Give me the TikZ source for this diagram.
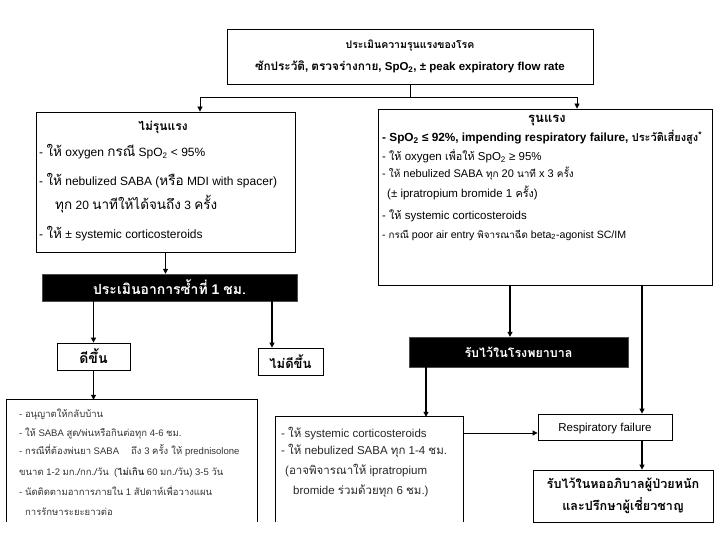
\documentclass[tikz,border=0pt]{standalone}
\usepackage{fontspec}
\setmainfont{Liberation Sans}
\newfontfamily\thaifont[Script=Thai]{Loma}
\newcommand\thsize{}
\newcommand\tx[1]{{\thaifont\thsize #1}}
\newcommand\fs[2]{\fontsize{#1}{#1}\selectfont\renewcommand\thsize{\fontsize{#2}{#2}\selectfont}}
\usetikzlibrary{arrows.meta}
\tikzset{
  box/.style={draw, line width=0.8pt, inner sep=0pt},
  openbox/.style={draw=none, inner sep=0pt},
  blackbox/.style={fill=black, draw=black!70, inner sep=0pt, text=white},
  arr/.style={line width=1.1pt, -{Triangle[length=5pt,width=5pt]}},
  thinarr/.style={line width=0.8pt, -{Triangle[length=5pt,width=5pt]}},
  ln/.style={line width=0.8pt},
  txt/.style={anchor=base west, inner sep=0pt},
  ctxt/.style={anchor=center, inner sep=0pt},
  sev/.style={txt, font=\fs{11.5}{10.8}},
  mildt/.style={txt, font=\fs{12}{13.5}},
  ward/.style={txt, text=black!85, font=\fs{11.5}{11.5}},
  home/.style={txt, text=black!80, font=\fs{9.5}{9.5}}
}
\begin{document}
\begin{tikzpicture}[x=1pt,y=-1pt]
\useasboundingbox (0,0) rectangle (720,540);
% boxes
\node[box, minimum width=366, minimum height=55] (top) at (410,56.5) {};
\node[box, minimum width=259, minimum height=140] (mild) at (165.5,182) {};
\node[box, minimum width=334, minimum height=176] (severe) at (545,197) {};
\node[blackbox, minimum width=255, minimum height=27, font=\fs{14}{14}\bfseries] (reeval) at (169.5,287.5) {\tx{ประเมินอาการซ้ำที่} 1 \tx{ชม.}};
\node[box, minimum width=73, minimum height=27, font=\fs{14}{14}\bfseries] (better) at (93.5,356.5) {\tx{ดีขึ้น}};
\node[box, minimum width=65, minimum height=27, font=\fs{13}{13}\bfseries] (notbetter) at (290.5,361.5) {\tx{ไม่ดีขึ้น}};
\node[blackbox, minimum width=219, minimum height=30, font=\fs{12.5}{12.5}\bfseries] (admit) at (518.5,352) {\tx{รับไว้ในโรงพยาบาล}};
\node[openbox, minimum width=250, minimum height=122] (home) at (132,461) {};
\node[openbox, minimum width=187, minimum height=105] (ward) at (369.5,469.5) {};
\draw[ln] (home.south west) -- (home.north west) -- (home.north east) -- (home.south east);
\draw[ln] (ward.south west) -- (ward.north west) -- (ward.north east) -- (ward.south east);
\node[box, minimum width=134, minimum height=26, text height=8.5pt, text depth=0pt, font=\fs{11.5}{11.5}] (resp) at (605,427) {Respiratory failure};
\node[box, minimum width=180, minimum height=52, align=center, font=\fs{12.6}{12.6}\bfseries] (icu) at (623,496) {\tx{รับไว้ในหออภิบาลผู้ป่วยหนัก}\\[5pt]\tx{และปรึกษาผู้เชี่ยวชาญ}};
% top text
\node[ctxt, font=\fs{10.5}{10.5}\bfseries] (t1) at (410,46) {\tx{ประเมินความรุนแรงของโรค}};
\node[ctxt, font=\fs{11.5}{11.8}\bfseries] (t2) at (410,67) {\tx{ซักประวัติ}, \tx{ตรวจร่างกาย}, SpO\textsubscript{2}, ± peak expiratory flow rate};
% mild text
\node[ctxt, font=\fs{12}{12}\bfseries] (l1) at (163,127) {\tx{ไม่รุนแรง}};
\node[mildt] (l2) at (39,157) {- \tx{ให้} oxygen \tx{กรณี} SpO\textsubscript{2} < 95\%};
\node[mildt] (l3) at (39,186) {- \tx{ให้} nebulized SABA (\tx{หรือ} MDI with spacer)};
\node[mildt] (l4) at (55,210) {\tx{ทุก} 20 \tx{นาทีให้ได้จนถึง} 3 \tx{ครั้ง}};
\node[mildt] (l5) at (39,239) {- \tx{ให้} ± systemic corticosteroids};
% severe text
\node[ctxt, font=\fs{13}{13}\bfseries] (r0) at (547,121) {\tx{รุนแรง}};
\node[sev, font=\fs{11.8}{11}\bfseries] (r1) at (382,142) {- SpO\textsubscript{2} ≤ 92\%, impending respiratory failure, \tx{ประวัติเสี่ยงสูง}\textsuperscript{*}};
\node[sev] (r2) at (382,161) {- \tx{ให้} oxygen \tx{เพื่อให้} SpO\textsubscript{2} ≥ 95\%};
\node[sev, font=\fs{11}{10}] (r3) at (382,178) {- \tx{ให้} nebulized SABA \tx{ทุก} 20 \tx{นาที} x 3 \tx{ครั้ง}};
\node[sev] (r4) at (387,198) {(± ipratropium bromide 1 \tx{ครั้ง})};
\node[sev] (r5) at (382,219) {- \tx{ให้} systemic corticosteroids};
\node[sev, font=\fs{10.6}{9.8}] (r6) at (382,238) {- \tx{กรณี} poor air entry \tx{พิจารณาฉีด} beta\textsubscript{2}-agonist SC/IM};
% home text
\node[home] (b1) at (19,417) {- \tx{อนุญาตให้กลับบ้าน}};
\node[home] (b2) at (19,436) {- \tx{ให้} SABA \tx{สูด/พ่นหรือกินต่อทุก} 4-6 \tx{ชม.}};
\node[home] (b3) at (19,454) {- \tx{กรณีที่ต้องพ่นยา} SABA \quad \tx{ถึง} 3 \tx{ครั้ง ให้} prednisolone};
\node[home] (b4) at (19,475) {\tx{ขนาด} 1-2 \tx{มก./กก./วัน} \ (\tx{\bfseries ไม่เกิน} 60 \tx{มก./วัน}) 3-5 \tx{วัน}};
\node[home] (b5) at (19,495) {- \tx{นัดติดตามอาการภายใน} 1 \tx{สัปดาห์เพื่อวางแผน}};
\node[home] (b6) at (25,515) {\tx{การรักษาระยะยาวต่อ}};
% ward text
\node[ward] (m1) at (281,437) {- \tx{ให้} systemic corticosteroids};
\node[ward] (m2) at (281,454) {- \tx{ให้} nebulized SABA \tx{ทุก} 1-4 \tx{ชม.}};
\node[ward] (m3) at (285,474) {(\tx{อาจพิจารณาให้} ipratropium};
\node[ward] (m4) at (293,494) {bromide \tx{ร่วมด้วยทุก} 6 \tx{ชม.})};
% connector anchor points
\coordinate (mildin) at ([xshift=34.5]mild.north);
\coordinate (sevin) at ([xshift=32]severe.north);
\coordinate (nbin) at ([xshift=-18.5]notbetter.north);
\coordinate (admin) at ([xshift=-8.5]admit.north);
\coordinate (respin) at ([xshift=37]resp.north);
\coordinate (respout) at ([xshift=37]resp.south);
\coordinate (wardin) at ([xshift=56.5]ward.north);
\coordinate (respleft) at ([yshift=-6]resp.west);
% connectors
\draw[ln] (top.south) -- ++(0,13) coordinate (j);
\draw[thinarr] (j) -| (mildin);
\draw[thinarr] (j) -| (sevin);
\draw[arr] (mild.south) -- (mild.south |- reeval.north);
\draw[arr] (reeval.south -| better.north) -- (better.north);
\draw[arr] (reeval.south -| nbin) -- (nbin);
\draw[arr] (better.south) -- (better.south |- home.north);
\draw[arr] (severe.south -| admin) -- (admin);
\draw[arr] (severe.south -| respin) -- (respin);
\draw[arr] (admit.south -| wardin) -- (wardin);
\draw[thinarr] (ward.east |- respleft) -- (respleft);
\draw[arr] (respout) -- (icu.north -| respout);
\end{tikzpicture}
\end{document}
